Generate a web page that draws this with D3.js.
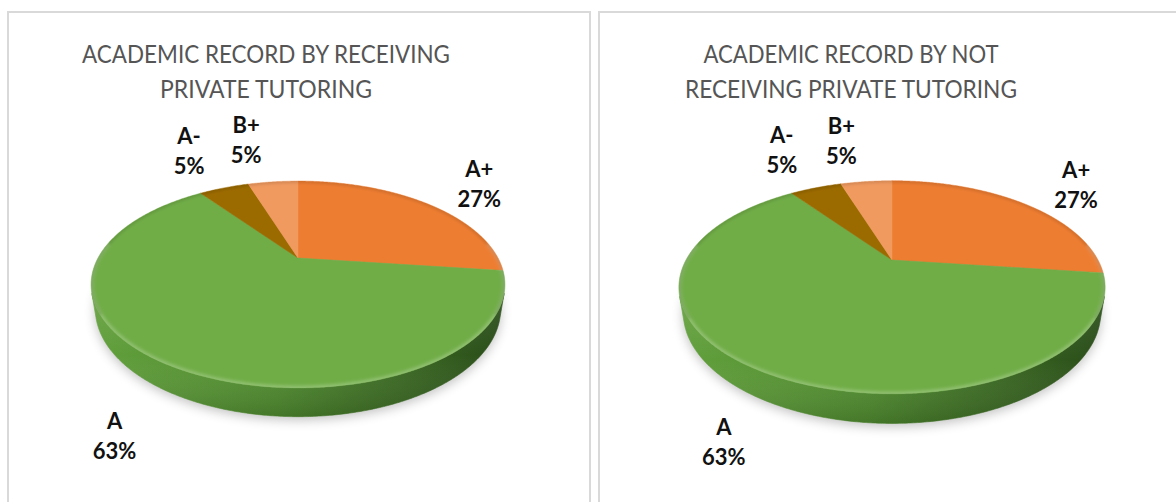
<!DOCTYPE html>
<html><head><meta charset="utf-8">
<script src="https://cdn.jsdelivr.net/npm/d3@7"></script>
<style>html,body{margin:0;padding:0;background:#fff;}svg{display:block;}</style>
</head><body>
<svg id="chart" width="1176" height="502"></svg>
<script>
// ---- data ----
const categories = ["A+", "A", "A-", "B+"];
const valuesReceiving = [27, 63, 5, 5];
const valuesNotReceiving = [27, 63, 5, 5];
const titleReceiving = ["ACADEMIC RECORD BY RECEIVING", "PRIVATE TUTORING"];
const titleNotReceiving = ["ACADEMIC RECORD BY NOT", "RECEIVING PRIVATE TUTORING"];

// ---- style / layout ----
const topColors = {"A+": "#ED7D31", "A": "#70AD47", "A-": "#9C6B00", "B+": "#F19A5F"};
const sideColors = {
  "A+": ["#d06a28", "#b85a1f", "#8a4012"],
  "A": ["#62a03c", "#4f8a2f", "#284a18"],
  "A-": ["#8a5e00", "#6e4b00", "#4a3200"],
  "B+": ["#dc8850", "#c57440", "#9a5428"]
};
const panels = [
  {x: 8, y: 12, w: 582, title: titleReceiving, titleX: 266, titleW: [368, 212], values: valuesReceiving,
   cx: 298, cy: 258, s: 200,
   nudge: {"A+": [53, -19], "A": [-56, 43], "A-": [-35, -36.5], "B+": [-27, -41.5]}},
  {x: 599, y: 12, w: 600, title: titleNotReceiving, titleX: 851, titleW: [295, 332], values: valuesNotReceiving,
   cx: 892, cy: 260, s: 206,
   nudge: {"A+": [52, -19], "A": [-37, 43], "A-": [-34, -38], "B+": [-25, -40.5]}}
];
const phi = 28.9 * Math.PI / 180;
const rD = 0.2926;      // R / camera distance
const depth = 0.14;     // pie thickness (in radii)

const svg = d3.select("#chart");
const defs = svg.append("defs");
const shadow = defs.append("filter").attr("id", "shadow").attr("x", "-20%").attr("y", "-20%").attr("width", "140%").attr("height", "140%");
shadow.append("feGaussianBlur").attr("stdDeviation", 6);
const bevelBlur = defs.append("filter").attr("id", "bevel").attr("x", "-10%").attr("y", "-10%").attr("width", "120%").attr("height", "120%");
bevelBlur.append("feGaussianBlur").attr("stdDeviation", 1.6);

const pie = d3.pie().sort(null).value(d => d.v);
const fmt = d3.format(".0%");

panels.forEach((p, pi) => {
  const g = svg.append("g");
  // panel border (bottom lies below the viewport)
  g.append("path")
    .attr("d", `M${p.x},${p.y + 520}V${p.y}H${p.x + p.w}V${p.y + 520}`)
    .attr("fill", "none").attr("stroke", "#d9d9d9").attr("stroke-width", 2);

  // title
  p.title.forEach((line, i) => {
    g.append("text").attr("text-anchor", "middle")
      .attr("font-family", "Lato, 'Open Sans', sans-serif").attr("font-size", 24.5)
      .attr("fill", "#555555")
      .attr("x", p.titleX).attr("y", [62.5, 97.5][i])
      .attr("textLength", p.titleW[i]).attr("lengthAdjust", "spacingAndGlyphs")
      .text(line);
  });

  // projection of a point on the cylinder (theta clockwise from 12 o'clock)
  function proj(theta, rho, yy) {
    const X = rho * Math.sin(theta), Z = rho * Math.cos(theta);
    const w = Z * Math.cos(phi) - yy * Math.sin(phi);
    const v = Z * Math.sin(phi) + yy * Math.cos(phi);
    const k = 1 + rD * w;
    return [p.cx + p.s * X / k, p.cy - p.s * v / k];
  }
  const line = d3.line();
  function arcPts(a, b, yy) {
    const n = Math.max(2, Math.ceil(Math.abs(b - a) / (Math.PI / 360)));
    return d3.range(n + 1).map(i => proj(a + (b - a) * i / n, 1, yy));
  }

  const data = categories.map((c, i) => ({c, v: p.values[i]}));
  const total = d3.sum(p.values);
  const arcs = pie(data);

  // shadow under the pie
  const bottomOutline = arcPts(0, 2 * Math.PI, -depth);
  g.append("path").attr("d", line(bottomOutline.map(q => [q[0], q[1] + 3])) + "Z")
    .attr("fill", "#000").attr("opacity", 0.25).attr("filter", "url(#shadow)");

  // visible (front-facing) wall range
  const lim = Math.acos(-rD / Math.cos(phi));
  const v1 = lim, v2 = 2 * Math.PI - lim;
  const left = p.cx - p.s * 1.06, right = p.cx + p.s * 1.06;

  arcs.forEach(a => {
    const lo = Math.max(a.startAngle, v1), hi = Math.min(a.endAngle, v2);
    if (hi <= lo) return;
    const gid = `side-${pi}-${categories.indexOf(a.data.c)}`;
    const lg = defs.append("linearGradient").attr("id", gid).attr("gradientUnits", "userSpaceOnUse")
      .attr("x1", left).attr("x2", right).attr("y1", 0).attr("y2", 0);
    const sc = sideColors[a.data.c];
    lg.append("stop").attr("offset", 0).attr("stop-color", sc[0]);
    lg.append("stop").attr("offset", 0.45).attr("stop-color", sc[1]);
    lg.append("stop").attr("offset", 1).attr("stop-color", sc[2]);
    const pts = arcPts(lo, hi, 0).concat(arcPts(hi, lo, -depth));
    g.append("path").attr("d", line(pts) + "Z").attr("fill", `url(#${gid})`)
      .attr("stroke", `url(#${gid})`).attr("stroke-width", 0.6);
  });

  // wall shading from rim to bottom edge
  const wallPts = arcPts(v1, v2, 0).concat(arcPts(v2, v1, -depth));
  const vg = defs.append("linearGradient").attr("id", `wallv-${pi}`).attr("x1", 0).attr("x2", 0).attr("y1", 0).attr("y2", 1);
  vg.append("stop").attr("offset", 0).attr("stop-color", "#fff").attr("stop-opacity", 0.10);
  vg.append("stop").attr("offset", 0.5).attr("stop-color", "#fff").attr("stop-opacity", 0);
  vg.append("stop").attr("offset", 1).attr("stop-color", "#000").attr("stop-opacity", 0.14);
  g.append("path").attr("d", line(wallPts) + "Z").attr("fill", `url(#wallv-${pi})`);

  // top face slices
  const topOutline = arcPts(0, 2 * Math.PI, 0);
  const clipId = `topclip-${pi}`;
  defs.append("clipPath").attr("id", clipId).append("path").attr("d", line(topOutline) + "Z");
  arcs.forEach(a => {
    const pts = [proj(0, 0, 0)].concat(arcPts(a.startAngle, a.endAngle, 0));
    g.append("path").attr("d", line(pts) + "Z").attr("fill", topColors[a.data.c])
      .attr("stroke", topColors[a.data.c]).attr("stroke-width", 0.5);
  });
  // soft bevel along the rim
  g.append("path").attr("clip-path", `url(#${clipId})`)
    .attr("d", line(arcPts(v1 - 0.5, v2 + 0.5, 0)))
    .attr("fill", "none").attr("stroke", "#fff").attr("stroke-opacity", 0.22)
    .attr("stroke-width", 5).attr("filter", "url(#bevel)");
  g.append("path").attr("clip-path", `url(#${clipId})`)
    .attr("d", line(arcPts(v2 - 0.2, v1 + 2 * Math.PI + 0.2, 0)))
    .attr("fill", "none").attr("stroke", "#000").attr("stroke-opacity", 0.12)
    .attr("stroke-width", 4).attr("filter", "url(#bevel)");

  // data labels
  arcs.forEach(a => {
    const mid = (a.startAngle + a.endAngle) / 2;
    const front = Math.cos(mid) < 0;
    const anchor = proj(mid, 1, front ? -depth : 0);
    const nd = p.nudge[a.data.c];
    const x = anchor[0] + nd[0], y = anchor[1] + nd[1];
    const lt = g.append("text").attr("text-anchor", "middle")
      .attr("font-family", "Lato, 'Open Sans', sans-serif").attr("font-weight", "bold")
      .attr("font-size", 22).attr("fill", "#111");
    lt.append("tspan").attr("x", x).attr("y", y - 7).text(a.data.c);
    lt.append("tspan").attr("x", x).attr("y", y + 23).text(fmt(a.data.v / total));
  });
});
</script>
</body></html>
